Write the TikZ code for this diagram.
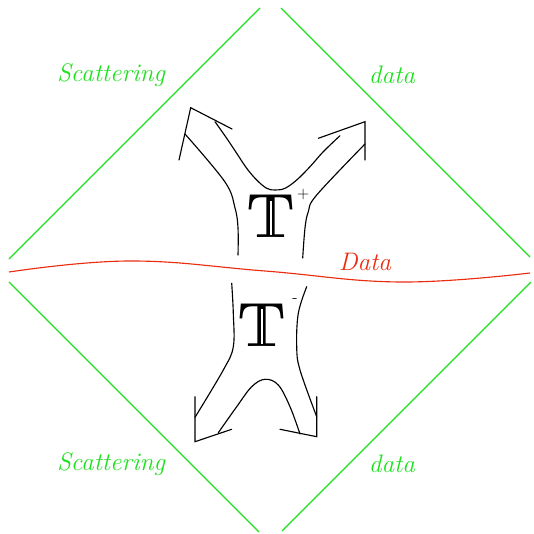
\documentclass[tikz,border=0pt]{standalone}
\definecolor{scatgreen}{RGB}{30,225,30}
\definecolor{datared}{RGB}{235,45,15}
\tikzset{
  diam/.style={draw=scatgreen, line width=0.85pt},
  lab/.style={text=scatgreen, font=\fontsize{19}{21}\selectfont\itshape, inner sep=0pt},
  tube/.style={draw=black, line width=0.85pt, line cap=round, line join=miter},
  bigT/.style={inner sep=0pt, anchor=base, font=\fontsize{47}{50}\selectfont\bfseries},
  stemcut/.style={draw=white, line width=1.7pt},
  supr/.style={inner sep=0pt, font=\large},
}
\begin{document}
\begin{tikzpicture}[x=0.75pt, y=-0.75pt]
\useasboundingbox (0,0) rectangle (533,534);
% diamond
\draw[diam] (260,8) -- (9,259);
\draw[diam] (281,8) -- (530,257);
\draw[diam] (9,282) -- (259,532);
\draw[diam] (531,282) -- (282,531);
% labels
\node[lab] (s1) at (111,75) {Scattering};
\node[lab] (d1) at (392,75) {data};
\node[lab] (s2) at (111,464) {Scattering};
\node[lab] (d2) at (392,464) {data};
% red wave
\draw[datared, line width=0.85pt] plot[smooth, tension=0.7] coordinates {(9,272) (129,261) (265,271) (401,282) (530,273)};
\node[lab, text=datared] (dd) at (365,262) {Data};
% upper tube
\draw[tube] (179,160) -- (190.7,107.7) -- (232,129);
\draw[tube] plot[smooth, tension=0.6] coordinates {(185,134) (225,182) (235,208) (238,228) (238,255)};
\draw[tube] plot[smooth, tension=0.6] coordinates {(215,121.7) (226.7,138.3) (236.7,153.3) (246.7,168.3) (256.7,180) (266.7,188.3) (275,190) (285,188.3) (296.7,180) (310,166.7) (323.3,151.7) (340,135.7)};
\draw[tube] (318.3,138.3) -- (365,121.7) -- (365,160);
\draw[tube] plot[smooth, tension=0.6] coordinates {(365,144) (316.7,195) (308.3,211.7) (305,228) (302.7,258)};
\node[bigT] (tp) at (271,238) {T};
\draw[stemcut] ([yshift=2.2pt]tp.base) -- ([yshift=28pt]tp.base);
\node[supr] (tpp) at (303.3,195) {+};
% lower tube
\draw[tube] plot[smooth, tension=0.6] coordinates {(231.7,283.3) (233.3,313.3) (233.3,346.7) (223.3,370) (195,417.3)};
\draw[tube] (195,396.7) -- (195,441.7) -- (231.7,429.3);
\draw[tube] plot[smooth, tension=0.6] coordinates {(218.3,432.7) (236.7,406.7) (251.7,386.7) (265,379.3) (278.3,385) (290,406.7) (300,434)};
\draw[tube] (280,429.3) -- (316.7,436.7) -- (316.7,396.7);
\draw[tube] plot[smooth, tension=0.6] coordinates {(306.7,286.7) (298.3,313.3) (296.7,346.7) (300,370) (316.7,416.7)};
\node[bigT] (tm) at (262,346.7) {T};
\draw[stemcut] ([yshift=2.2pt]tm.base) -- ([yshift=28pt]tm.base);
\node[supr] (tmm) at (295,301) {-};
\end{tikzpicture}
\end{document}
